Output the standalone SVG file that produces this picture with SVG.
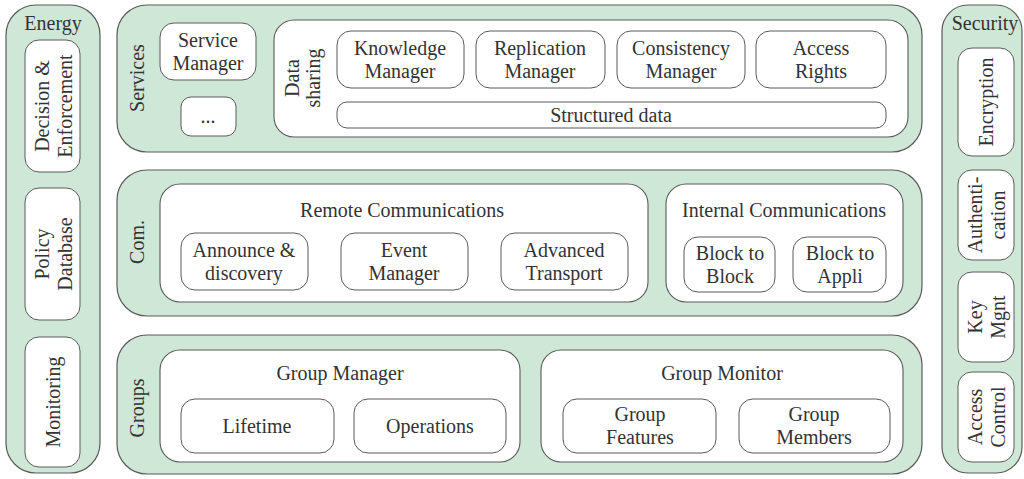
<svg xmlns="http://www.w3.org/2000/svg" width="1024" height="479" viewBox="0 0 1024 479">
  <style>
    .layer { fill: #cfe7d7; stroke: #5a5a5a; stroke-width: 1.2; }
    .panel { fill: #ffffff; stroke: #5a5a5a; stroke-width: 1.1; }
    .box { fill: #ffffff; stroke: #5a5a5a; stroke-width: 1; }
    .t { font-family: "Liberation Serif", "Times New Roman", serif; font-size: 20px; fill: #333333; text-anchor: middle; dominant-baseline: central; }
  </style>
  <rect width="1024" height="479" fill="#ffffff"/>

  <!-- Energy column -->
  <g id="energy">
    <rect class="layer" x="6" y="5" width="94" height="468" rx="30"/>
    <text class="t" x="53" y="23">Energy</text>
    <g id="decision-enforcement">
      <rect class="box" x="25" y="40" width="55" height="132" rx="14"/>
      <text class="t" transform="translate(53,106) rotate(-90)"><tspan x="0" y="-11.5">Decision &amp;</tspan><tspan x="0" y="11.5">Enforcement</tspan></text>
    </g>
    <g id="policy-database">
      <rect class="box" x="25" y="188" width="55" height="132" rx="14"/>
      <text class="t" transform="translate(53,254) rotate(-90)"><tspan x="0" y="-11.5">Policy</tspan><tspan x="0" y="11.5">Database</tspan></text>
    </g>
    <g id="monitoring">
      <rect class="box" x="25" y="337" width="55" height="130" rx="14"/>
      <text class="t" transform="translate(53,402) rotate(-90)">Monitoring</text>
    </g>
  </g>

  <!-- Services layer -->
  <g id="services">
    <rect class="layer" x="117" y="5" width="805" height="147" rx="30"/>
    <text class="t" transform="translate(137,78) rotate(-90)">Services</text>
    <g id="service-manager">
      <rect class="box" x="160" y="23" width="96" height="57" rx="14"/>
      <text class="t" x="208" y="40">Service</text>
      <text class="t" x="208" y="63">Manager</text>
    </g>
    <g id="more-services">
      <rect class="box" x="181" y="97" width="55" height="39" rx="10"/>
      <text class="t" x="208" y="116">...</text>
    </g>
    <g id="data-sharing">
      <rect class="panel" x="274" y="20" width="634" height="117" rx="20"/>
      <text class="t" transform="translate(302,78) rotate(-90)"><tspan x="0" y="-10.5">Data</tspan><tspan x="0" y="10.5">sharing</tspan></text>
    </g>
    <g id="knowledge-manager">
      <rect class="box" x="337" y="31" width="127" height="57" rx="14"/>
      <text class="t" x="400" y="48">Knowledge</text>
      <text class="t" x="400" y="71">Manager</text>
    </g>
    <g id="replication-manager">
      <rect class="box" x="476" y="31" width="129" height="57" rx="14"/>
      <text class="t" x="540" y="48">Replication</text>
      <text class="t" x="540" y="71">Manager</text>
    </g>
    <g id="consistency-manager">
      <rect class="box" x="617" y="31" width="128" height="57" rx="14"/>
      <text class="t" x="681" y="48">Consistency</text>
      <text class="t" x="681" y="71">Manager</text>
    </g>
    <g id="access-rights">
      <rect class="box" x="756" y="31" width="130" height="57" rx="14"/>
      <text class="t" x="821" y="48">Access</text>
      <text class="t" x="821" y="71">Rights</text>
    </g>
    <g id="structured-data">
      <rect class="box" x="337" y="102" width="549" height="26" rx="10"/>
      <text class="t" x="611" y="115">Structured data</text>
    </g>
  </g>

  <!-- Communication layer -->
  <g id="communications">
    <rect class="layer" x="117" y="170" width="805" height="146" rx="30"/>
    <text class="t" transform="translate(137,242) rotate(-90)">Com.</text>
    <g id="remote-communications">
      <rect class="panel" x="160" y="184" width="488" height="118" rx="20"/>
      <text class="t" x="402" y="210">Remote Communications</text>
    </g>
    <g id="announce-discovery">
      <rect class="box" x="181" y="233" width="127" height="57" rx="14"/>
      <text class="t" x="244" y="250">Announce &amp;</text>
      <text class="t" x="244" y="273">discovery</text>
    </g>
    <g id="event-manager">
      <rect class="box" x="341" y="233" width="127" height="57" rx="14"/>
      <text class="t" x="404" y="250">Event</text>
      <text class="t" x="404" y="273">Manager</text>
    </g>
    <g id="advanced-transport">
      <rect class="box" x="501" y="233" width="127" height="57" rx="14"/>
      <text class="t" x="564" y="250">Advanced</text>
      <text class="t" x="564" y="273">Transport</text>
    </g>
    <g id="internal-communications">
      <rect class="panel" x="666" y="184" width="237" height="118" rx="20"/>
      <text class="t" x="784" y="210">Internal Communications</text>
    </g>
    <g id="block-to-block">
      <rect class="box" x="684" y="237" width="91" height="55" rx="14"/>
      <text class="t" x="730" y="253">Block to</text>
      <text class="t" x="730" y="276">Block</text>
    </g>
    <g id="block-to-appli">
      <rect class="box" x="793" y="237" width="93" height="55" rx="14"/>
      <text class="t" x="840" y="253">Block to</text>
      <text class="t" x="840" y="276">Appli</text>
    </g>
  </g>

  <!-- Groups layer -->
  <g id="groups">
    <rect class="layer" x="117" y="335" width="805" height="139" rx="30"/>
    <text class="t" transform="translate(137,408) rotate(-90)">Groups</text>
    <g id="group-manager">
      <rect class="panel" x="160" y="350" width="360" height="112" rx="20"/>
      <text class="t" x="340" y="373">Group Manager</text>
    </g>
    <g id="lifetime">
      <rect class="box" x="181" y="399" width="153" height="54" rx="14"/>
      <text class="t" x="257" y="426">Lifetime</text>
    </g>
    <g id="operations">
      <rect class="box" x="354" y="399" width="152" height="54" rx="14"/>
      <text class="t" x="430" y="426">Operations</text>
    </g>
    <g id="group-monitor">
      <rect class="panel" x="541" y="350" width="362" height="112" rx="20"/>
      <text class="t" x="722" y="373">Group Monitor</text>
    </g>
    <g id="group-features">
      <rect class="box" x="563" y="399" width="153" height="54" rx="14"/>
      <text class="t" x="640" y="414">Group</text>
      <text class="t" x="640" y="437">Features</text>
    </g>
    <g id="group-members">
      <rect class="box" x="739" y="399" width="151" height="54" rx="14"/>
      <text class="t" x="814" y="414">Group</text>
      <text class="t" x="814" y="437">Members</text>
    </g>
  </g>

  <!-- Security column -->
  <g id="security">
    <rect class="layer" x="942" y="5" width="80" height="468" rx="26"/>
    <text class="t" x="985" y="23">Security</text>
    <g id="encryption">
      <rect class="box" x="958" y="48" width="56" height="108" rx="14"/>
      <text class="t" transform="translate(986,102) rotate(-90)">Encryption</text>
    </g>
    <g id="authentication">
      <rect class="box" x="958" y="170" width="56" height="90" rx="14"/>
      <text class="t" transform="translate(986,215) rotate(-90)"><tspan x="0" y="-11.5">Authenti-</tspan><tspan x="0" y="11.5">cation</tspan></text>
    </g>
    <g id="key-management">
      <rect class="box" x="958" y="272" width="56" height="90" rx="14"/>
      <text class="t" transform="translate(986,317) rotate(-90)"><tspan x="0" y="-11.5">Key</tspan><tspan x="0" y="11.5">Mgnt</tspan></text>
    </g>
    <g id="access-control">
      <rect class="box" x="958" y="372" width="56" height="90" rx="14"/>
      <text class="t" transform="translate(986,417) rotate(-90)"><tspan x="0" y="-11.5">Access</tspan><tspan x="0" y="11.5">Control</tspan></text>
    </g>
  </g>

  <!-- The layers are stacked blocks; no connectors are drawn -->
  <g id="connectors"/>
</svg>
